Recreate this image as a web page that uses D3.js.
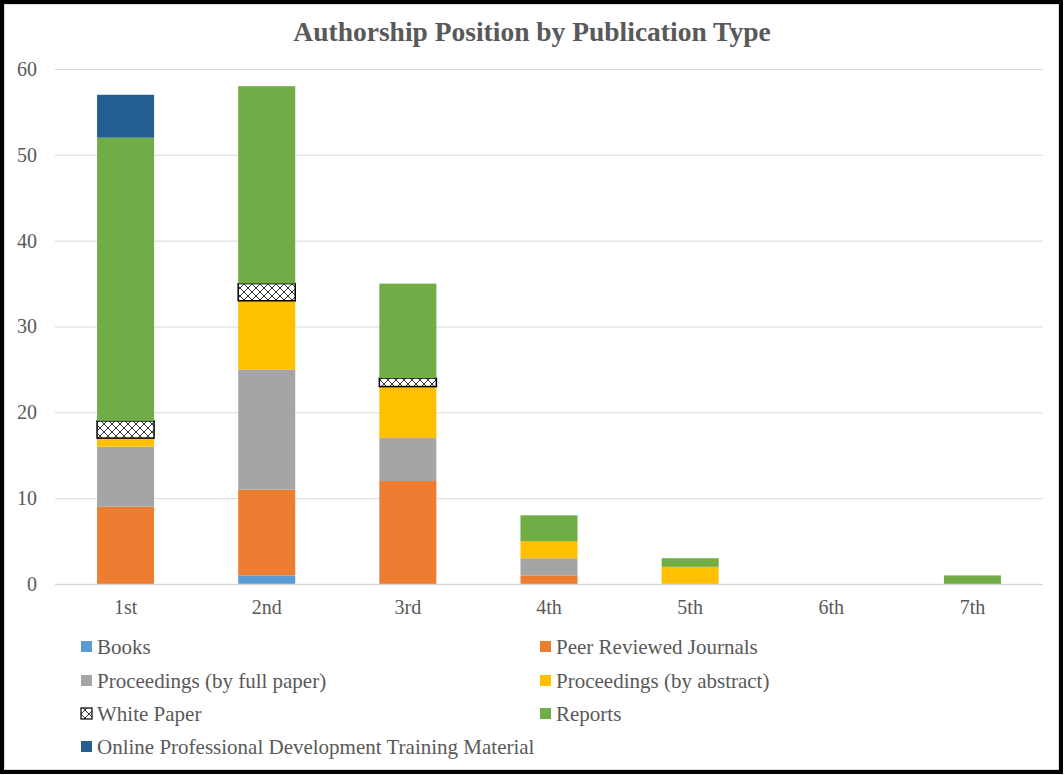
<!DOCTYPE html>
<html>
<head>
<meta charset="utf-8">
<script src="https://cdn.jsdelivr.net/npm/d3@7"></script>
<style>
html,body{margin:0;padding:0;background:#fff;}
svg{display:block;}
</style>
</head>
<body>
<svg id="chart" width="1064" height="775"></svg>
<script>
const categories = ["1st","2nd","3rd","4th","5th","6th","7th"];
const seriesNames = ["Books","Peer Reviewed Journals","Proceedings (by full paper)","Proceedings (by abstract)","White Paper","Reports","Online Professional Development Training Material"];
const books = [0,1,0,0,0,0,0];
const peerReviewed = [9,10,12,1,0,0,0];
const procFull = [7,14,5,2,0,0,0];
const procAbstract = [1,8,6,2,2,0,0];
const whitePaper = [2,2,1,0,0,0,0];
const reports = [33,23,11,3,1,0,1];
const onlineTraining = [5,0,0,0,0,0,0];
const yTicks = [0,10,20,30,40,50,60];
const title = "Authorship Position by Publication Type";

const seriesValues = [books,peerReviewed,procFull,procAbstract,whitePaper,reports,onlineTraining];
const colors = ["#5B9BD5","#ED7D31","#A5A5A5","#FFC000","url(#hatch)","#70AD47","#255E91"];
const font = "'Liberation Serif', 'Times New Roman', serif";

const svg = d3.select("#chart");
const W = 1064, H = 775;

// pattern
const defs = svg.append("defs");
const pat = defs.append("pattern").attr("id","hatch").attr("patternUnits","userSpaceOnUse")
  .attr("width",8).attr("height",8);
pat.append("rect").attr("width",8).attr("height",8).attr("fill","#fff");
pat.append("path").attr("d","M0,0 L8,8 M8,0 L0,8").attr("stroke","#333").attr("stroke-width",1);
pat.append("circle").attr("cx",4).attr("cy",0).attr("r",1.6).attr("fill","#fff");
pat.append("circle").attr("cx",4).attr("cy",8).attr("r",1.6).attr("fill","#fff");

// border
svg.append("rect").attr("x",0).attr("y",0).attr("width",W).attr("height",H).attr("fill","#fff");
svg.append("rect").attr("x",2).attr("y",2).attr("width",W-5).attr("height",H-5)
  .attr("fill","none").attr("stroke","#000").attr("stroke-width",4);
svg.append("rect").attr("x",4.5).attr("y",4.5).attr("width",W-10).attr("height",H-10)
  .attr("fill","none").attr("stroke","#d9d9d9").attr("stroke-width",1);

const x = d3.scaleBand().domain(categories).range([55,1043]).paddingInner(0.596).paddingOuter(0.298);
const y = d3.scaleLinear().domain([0,60]).range([584,69]);

// title
svg.append("text").attr("x",532).attr("y",41).attr("text-anchor","middle")
  .attr("font-family",font).attr("font-weight","bold").attr("font-size",27.5)
  .attr("fill","#595959").text(title);

// gridlines
const grid = svg.append("g").attr("transform","translate(55,0)")
  .call(d3.axisLeft(y).tickValues(yTicks).tickSize(-(1043-55)).tickFormat(""));
grid.select(".domain").remove();
grid.selectAll("line").attr("stroke","#d9d9d9").attr("stroke-width",1);

// y labels
const yAxis = svg.append("g").attr("transform","translate(37,0)")
  .call(d3.axisLeft(y).tickValues(yTicks).tickSize(0).tickPadding(0));
yAxis.select(".domain").remove();
yAxis.selectAll("text").attr("font-family",font).attr("font-size",20).attr("fill","#595959");

// stack
const table = categories.map((c,i)=>{
  const o = {cat:c};
  seriesNames.forEach((s,j)=>o[s]=seriesValues[j][i]);
  return o;
});
const stacked = d3.stack().keys(seriesNames)(table);

const layers = svg.append("g").selectAll("g").data(stacked).join("g")
  .attr("fill",(d,i)=>colors[i]);
layers.selectAll("rect").data(d=>d.map(v=>({v, key:d.key}))).join("rect")
  .filter(d=>d.v[1]-d.v[0]>0)
  .attr("x",d=>x(d.v.data.cat))
  .attr("width",x.bandwidth())
  .attr("y",d=>y(d.v[1]))
  .attr("height",d=>y(d.v[0])-y(d.v[1]))
  .attr("stroke",d=>d.key==="White Paper"?"#000":"none")
  .attr("stroke-width",d=>d.key==="White Paper"?1.5:0);

// x axis line
svg.append("line").attr("x1",55).attr("x2",1043).attr("y1",y(0)+0.5).attr("y2",y(0)+0.5)
  .attr("stroke","#d9d9d9").attr("stroke-width",1.5);

// x labels
const xAxis = svg.append("g").attr("transform",`translate(0,${y(0)})`)
  .call(d3.axisBottom(x).tickSize(0).tickPadding(16));
xAxis.select(".domain").remove();
xAxis.selectAll("text").attr("font-family",font).attr("font-size",20).attr("fill","#595959");

// legend
const legendPos = [[81,647],[540,647],[81,681],[540,681],[81,714],[540,714],[81,747]];
const lg = svg.append("g").selectAll("g").data(seriesNames).join("g")
  .attr("transform",(d,i)=>`translate(${legendPos[i][0]},${legendPos[i][1]})`);
lg.append("rect").attr("x",0).attr("y",-6).attr("width",11).attr("height",11)
  .attr("fill",(d,i)=>colors[i])
  .attr("stroke",(d,i)=>seriesNames[i]==="White Paper"?"#000":"none")
  .attr("stroke-width",1.2);
lg.append("text").attr("x",16).attr("y",0).attr("dy","0.35em")
  .attr("font-family",font).attr("font-size",21).attr("fill","#595959").text(d=>d);
</script>
</body>
</html>
